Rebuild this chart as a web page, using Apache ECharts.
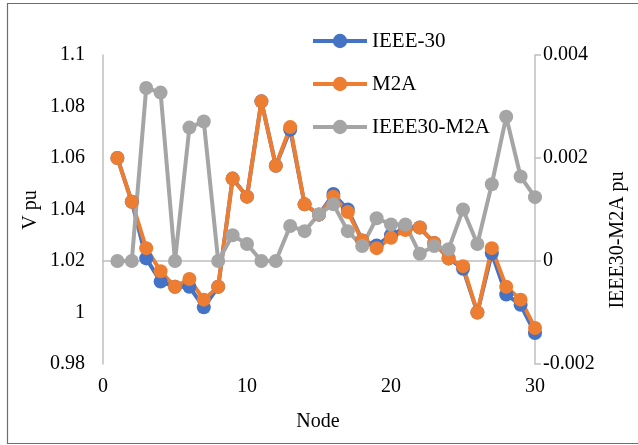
<!DOCTYPE html>
<html>
<head>
<meta charset="utf-8">
<script src="https://cdn.jsdelivr.net/npm/echarts@6/dist/echarts.min.js"></script>
<style>
  html, body { margin: 0; padding: 0; background: #fff; }
  #chart { width: 638px; height: 445px; }
</style>
</head>
<body>
<div id="chart"></div>
<script>
// Bus voltage profile of the IEEE 30-bus system vs. the M2A solution
const nodes = [1,2,3,4,5,6,7,8,9,10,11,12,13,14,15,16,17,18,19,20,21,22,23,24,25,26,27,28,29,30];

const ieee30 = [1.060,1.043,1.021,1.012,1.010,1.010,1.002,1.010,1.052,1.045,
                1.082,1.057,1.071,1.042,1.038,1.046,1.040,1.028,1.026,1.030,
                1.033,1.033,1.027,1.021,1.017,1.000,1.023,1.007,1.003,0.992];

const m2a = [1.060,1.043,1.025,1.016,1.010,1.013,1.005,1.010,1.052,1.045,
             1.082,1.057,1.072,1.042,1.038,1.045,1.039,1.028,1.025,1.029,
             1.032,1.033,1.027,1.021,1.018,1.000,1.025,1.010,1.005,0.994];

const diff = [0,0,0.00336,0.00327,0,0.00259,0.00271,0,0.0005,0.00033,
              0,0,0.00068,0.00058,0.00091,0.0011,0.00058,0.00029,0.00083,0.00071,
              0.00071,0.00014,0.00029,0.00023,0.001,0.00033,0.00149,0.0028,0.00164,0.00124];

const xTicks = { min: 0, max: 30, step: 10 };
const vTicks = { min: 0.98, max: 1.1, step: 0.02 };
const dTicks = { min: -0.002, max: 0.004, step: 0.002 };

const FONT = 'Liberation Serif';
const FS = 20;
const AXIS_GRAY = '#BFBFBF';

function pairs(ys) { return nodes.map((n, i) => [n, ys[i]]); }
function trim(v, d) { return String(parseFloat(v.toFixed(d))); }

const chart = echarts.init(document.getElementById('chart'), null, { renderer: 'canvas' });

function lineSeries(name, ys, color, axisIndex) {
  return {
    name: name,
    type: 'line',
    yAxisIndex: axisIndex,
    data: pairs(ys),
    symbol: 'circle',
    symbolSize: 14,
    showSymbol: true,
    color: color,
    lineStyle: { width: 4, color: color },
    itemStyle: { color: color },
    emphasis: { disabled: true },
    silent: true
  };
}

chart.setOption({
  animation: false,
  backgroundColor: '#ffffff',
  textStyle: { fontFamily: FONT },
  grid: { left: 103, right: 103, top: 55, bottom: 81 },
  legend: {
    orient: 'vertical',
    left: 306,
    top: 25,
    itemWidth: 54,
    itemHeight: 18,
    itemGap: 21,
    lineStyle: { width: 4 },
    textStyle: { fontFamily: FONT, fontSize: 21, color: '#000', lineHeight: 22 },
    data: ['IEEE-30', 'M2A', 'IEEE30-M2A']
  },
  xAxis: {
    type: 'value',
    min: xTicks.min, max: xTicks.max, interval: xTicks.step,
    splitLine: { show: false },
    axisLine: { show: true, lineStyle: { color: AXIS_GRAY, width: 1.5 } },
    axisTick: { show: false },
    axisLabel: { color: '#000', fontFamily: FONT, fontSize: FS, margin: 13 }
  },
  yAxis: [
    {
      type: 'value',
      min: vTicks.min, max: vTicks.max, interval: vTicks.step,
      splitLine: { show: false },
      axisLine: { show: true, lineStyle: { color: AXIS_GRAY, width: 1.5 } },
      axisTick: { show: false },
      axisLabel: { color: '#000', fontFamily: FONT, fontSize: FS, margin: 18,
                   formatter: v => trim(v, 2) }
    },
    {
      type: 'value',
      position: 'right',
      min: dTicks.min, max: dTicks.max, interval: dTicks.step,
      splitLine: { show: false },
      axisLine: { show: true, lineStyle: { color: AXIS_GRAY, width: 1.5 } },
      axisTick: { show: true, length: 6, lineStyle: { color: AXIS_GRAY, width: 1.5 } },
      axisLabel: { color: '#000', fontFamily: FONT, fontSize: FS, margin: 8,
                   formatter: v => trim(v, 3) }
    }
  ],
  graphic: [
    {
      type: 'rect', silent: true, z: 100,
      shape: { x: 7.5, y: 3.5, width: 640, height: 440 },
      style: { fill: null, stroke: '#6E6E6E', lineWidth: 1.2 }
    },
    {
      type: 'text', x: 318, y: 422, silent: true,
      style: { text: 'Node', font: FS + 'px "Liberation Serif"', fill: '#000',
               align: 'center', verticalAlign: 'middle' }
    },
    {
      type: 'text', x: 31, y: 210, rotation: Math.PI / 2, silent: true,
      style: { text: 'V pu', font: FS + 'px "Liberation Serif"', fill: '#000',
               align: 'center', verticalAlign: 'middle' }
    },
    {
      type: 'text', x: 618, y: 240, rotation: Math.PI / 2, silent: true,
      style: { text: 'IEEE30-M2A pu', font: FS + 'px "Liberation Serif"', fill: '#000',
               align: 'center', verticalAlign: 'middle' }
    }
  ],
  series: [
    lineSeries('IEEE-30', ieee30, '#4472C4', 0),
    lineSeries('M2A', m2a, '#ED7D31', 0),
    lineSeries('IEEE30-M2A', diff, '#A5A5A5', 1)
  ]
});
</script>
</body>
</html>
